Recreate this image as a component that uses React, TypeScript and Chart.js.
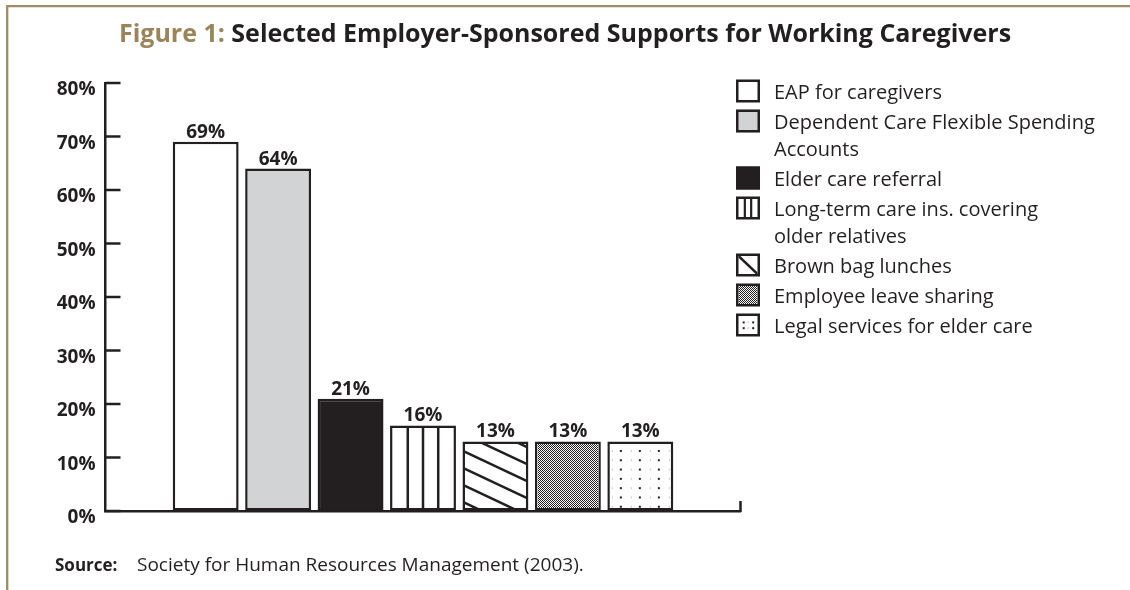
import React, { useEffect, useRef } from "react";
import { Chart, registerables } from "chart.js";

Chart.register(...registerables);

// ---------- data ----------
const titleLead = "Figure 1:";
const titleRest = "Selected Employer-Sponsored Supports for Working Caregivers";
const categories = [
  "EAP for caregivers",
  "Dependent Care Flexible Spending\nAccounts",
  "Elder care referral",
  "Long-term care ins. covering\nolder relatives",
  "Brown bag lunches",
  "Employee leave sharing",
  "Legal services for elder care",
];
const values = [69, 64, 21, 16, 13, 13, 13];
const yTicks = [0, 10, 20, 30, 40, 50, 60, 70, 80];
const sourceLabel = "Source:";
const sourceText = "Society for Human Resources Management (2003).";

// ---------- styles ----------
const INK = "#231f20";
const TAN = "#9c8458";
const FRAME = "#a08c60";
const barColors = ["#ffffff", "#d1d3d4", INK, "#ffffff", "#ffffff", "#ffffff", "#ffffff"];
const barFills = ["plain", "plain", "plain", "vlines", "diag", "checker", "dots"];
const FONT = '"Open Sans", "DejaVu Sans", sans-serif';
const BW = 2.5;

function line(ctx: CanvasRenderingContext2D, x1: number, y1: number, x2: number, y2: number) {
  ctx.beginPath();
  ctx.moveTo(x1, y1);
  ctx.lineTo(x2, y2);
  ctx.stroke();
}

let checkerCanvas: HTMLCanvasElement | null = null;
function checkerPattern(ctx: CanvasRenderingContext2D) {
  if (!checkerCanvas) {
    checkerCanvas = document.createElement("canvas");
    checkerCanvas.width = 2;
    checkerCanvas.height = 2;
    const g = checkerCanvas.getContext("2d")!;
    g.fillStyle = "#ffffff";
    g.fillRect(0, 0, 2, 2);
    g.fillStyle = INK;
    g.fillRect(0, 0, 1, 1);
    g.fillRect(1, 1, 1, 1);
  }
  return ctx.createPattern(checkerCanvas, "repeat")!;
}

function drawFill(ctx: CanvasRenderingContext2D, kind: string, l: number, t: number, r: number, b: number, small: boolean) {
  const w = r - l;
  const h = b - t;
  if (w <= 0 || h <= 0) return;
  ctx.save();
  ctx.beginPath();
  ctx.rect(l, t, w, h);
  ctx.clip();
  ctx.strokeStyle = INK;
  ctx.fillStyle = INK;
  if (kind === "vlines") {
    const n = small ? 3 : 4;
    ctx.lineWidth = small ? 2.2 : 2.5;
    for (let k = 1; k < n; k++) {
      const x = l + (w * k) / n;
      line(ctx, x, t - 2, x, b + 2);
    }
  } else if (kind === "diag") {
    ctx.lineWidth = 2.5;
    if (small) {
      line(ctx, l - 1, t - 1, r + 1, b + 1);
    } else {
      const s = 0.47;
      const gap = 17;
      for (let c = 8 - Math.ceil((w * s) / gap + 1) * gap; c < h + gap; c += gap) {
        line(ctx, l - 2, t + c - 2 * s, r + 2, t + c + s * (w + 2));
      }
    }
  } else if (kind === "checker") {
    ctx.fillStyle = checkerPattern(ctx);
    ctx.fillRect(l, t, w, h);
  } else if (kind === "dots") {
    if (small) {
      ctx.fillStyle = "#c8c8c8";
      ctx.fillRect(l + w / 2 - 0.5, t + h * 0.3, 1, 2);
      ctx.fillRect(l + w / 2 - 0.5, t + h * 0.62, 1, 2);
      ctx.fillStyle = INK;
      for (const fx of [0.22, 0.72]) {
        for (const fy of [0.3, 0.62]) ctx.fillRect(l + w * fx, t + h * fy, 2, 2);
      }
    } else {
      for (let y = t + 6; y < b - 2; y += 9.3) {
        ctx.fillStyle = "#c8c8c8";
        for (let k = 0; k < 4; k++) ctx.fillRect(l + 2 + 19 * k, y, 1, 2);
        ctx.fillStyle = INK;
        for (let k = 0; k < 3; k++) ctx.fillRect(l + 10 + 19 * k, y, 2, 2);
      }
    }
  }
  ctx.restore();
}

const decorPlugin = {
  id: "decor",
  beforeDraw(chart: any) {
    const ctx: CanvasRenderingContext2D = chart.ctx;
    ctx.save();
    ctx.fillStyle = "#ffffff";
    ctx.fillRect(0, 0, chart.width, chart.height);
    ctx.strokeStyle = FRAME;
    ctx.lineWidth = 2.3;
    ctx.beginPath();
    ctx.moveTo(7.2, chart.height);
    ctx.lineTo(7.2, 6.2);
    ctx.lineTo(chart.width, 6.2);
    ctx.stroke();
    ctx.restore();
  },
  afterDatasetsDraw(chart: any) {
    const ctx: CanvasRenderingContext2D = chart.ctx;
    const meta = chart.getDatasetMeta(0);
    meta.data.forEach((bar: any, i: number) => {
      const p = bar.getProps(["x", "y", "base", "width"], true);
      const l = p.x - p.width / 2 + BW;
      const r = p.x + p.width / 2 - BW;
      drawFill(ctx, barFills[i], l, p.y + BW, r, p.base - BW, false);
      ctx.save();
      ctx.fillStyle = INK;
      ctx.font = `bold 19px ${FONT}`;
      ctx.textAlign = "center";
      ctx.textBaseline = "alphabetic";
      ctx.fillText(`${values[i]}%`, p.x, p.y - 4);
      ctx.restore();
    });
  },
  afterDraw(chart: any) {
    const ctx: CanvasRenderingContext2D = chart.ctx;
    const { left, right, bottom } = chart.chartArea;
    const yScale = chart.scales.y;
    ctx.save();
    ctx.strokeStyle = INK;
    ctx.lineWidth = BW;
    // inward tick marks on y axis
    yTicks.forEach((v) => {
      const y = yScale.getPixelForValue(v);
      line(ctx, left, y, left + 15, y);
    });
    // small end tick on x axis
    line(ctx, right, bottom + 1, right, bottom - 10);

    // title
    ctx.font = `bold 25px ${FONT}`;
    ctx.textBaseline = "alphabetic";
    ctx.textAlign = "left";
    const lead = titleLead + " ";
    const w1 = ctx.measureText(lead).width;
    const w2 = ctx.measureText(titleRest).width;
    const x0 = chart.width / 2 - (w1 + w2) / 2;
    ctx.fillStyle = TAN;
    ctx.fillText(lead, x0, 42);
    ctx.fillStyle = INK;
    ctx.fillText(titleRest, x0 + w1, 42);

    // legend
    let cy = 93;
    categories.forEach((cat, i) => {
      const lines = cat.split("\n");
      const bx = 736;
      const bh = 23;
      const bwid = 24;
      const by = cy - 2 - bh / 2;
      ctx.fillStyle = barColors[i];
      ctx.fillRect(bx, by, bwid, bh);
      drawFill(ctx, barFills[i], bx + BW, by + BW, bx + bwid - BW, by + bh - BW, true);
      ctx.strokeStyle = INK;
      ctx.lineWidth = BW;
      ctx.strokeRect(bx + BW / 2, by + BW / 2, bwid - BW, bh - BW);
      ctx.fillStyle = INK;
      ctx.font = `20px ${FONT}`;
      ctx.textBaseline = "middle";
      lines.forEach((ln, k) => ctx.fillText(ln, 774, cy + 27 * k));
      cy += 27 * (lines.length - 1) + 30;
    });

    // source
    ctx.textBaseline = "alphabetic";
    ctx.fillStyle = INK;
    ctx.font = `bold 17px ${FONT}`;
    ctx.fillText(sourceLabel, 55, 571);
    ctx.font = `19px ${FONT}`;
    ctx.fillText(sourceText, 137, 571);
    ctx.restore();
  },
};

export default function App() {
  const ref = useRef<HTMLCanvasElement | null>(null);

  useEffect(() => {
    if (!ref.current) return;
    const chart = new Chart(ref.current, {
      type: "bar",
      data: {
        datasets: [
          {
            label: "Share of employers",
            data: values.map((v, i) => ({ x: i, y: v })),
            backgroundColor: barColors,
            borderColor: INK,
            borderWidth: BW,
            borderSkipped: false,
            barPercentage: 0.91,
            categoryPercentage: 1,
          },
        ],
      },
      options: {
        responsive: false,
        animation: false,
        devicePixelRatio: 1,
        layout: { padding: { top: 83, right: 389.5, bottom: 0, left: 0 } },
        plugins: {
          legend: { display: false },
          tooltip: { enabled: false },
          title: { display: false },
        },
        scales: {
          x: {
            type: "linear",
            min: -1.383,
            max: 7.383,
            offset: false,
            ticks: { display: false },
            grid: { display: true, drawOnChartArea: false, drawTicks: false },
            border: { display: true, color: INK, width: BW },
            afterFit: (s: any) => {
              s.height = 79;
            },
          },
          y: {
            min: 0,
            max: 80,
            afterBuildTicks: (s: any) => {
              s.ticks = yTicks.map((v) => ({ value: v }));
            },
            ticks: {
              padding: 10,
              labelOffset: 7,
              color: INK,
              font: { family: FONT, weight: "bold", size: 19 },
              callback: (v: any) => `${v}%`,
            },
            grid: { display: true, drawOnChartArea: false, drawTicks: false },
            border: { display: true, color: INK, width: BW },
            afterFit: (s: any) => {
              s.width = 105.5;
            },
          },
        },
      } as any,
      plugins: [decorPlugin],
    });
    return () => chart.destroy();
  }, []);

  return (
    <div style={{ position: "absolute", left: 0, top: 0, width: 1130, height: 590, background: "#fff" }}>
      <canvas ref={ref} width={1130} height={590} style={{ display: "block", width: 1130, height: 590 }} />
    </div>
  );
}
